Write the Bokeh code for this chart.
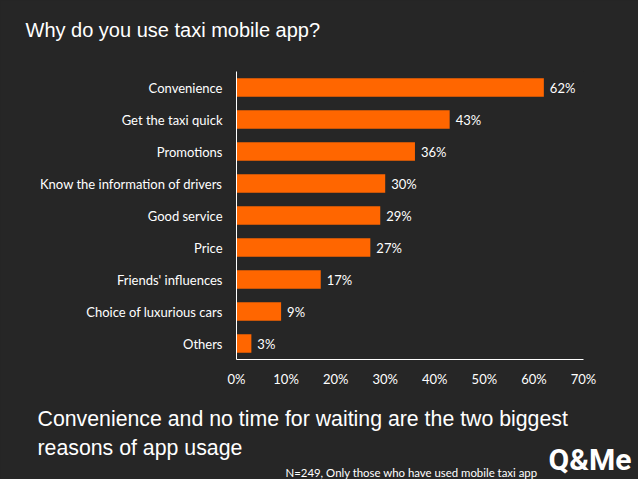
from bokeh.plotting import figure
from bokeh.models import FactorRange, Range1d, FixedTicker, Label, ColumnDataSource
from bokeh.core.properties import value
from bokeh.embed import file_html
from bokeh.resources import INLINE

# ---- data ----
categories = ["Convenience", "Get the taxi quick", "Promotions",
              "Know the information of drivers", "Good service", "Price",
              "Friends' influences", "Choice of luxurious cars", "Others"]
shares = [62, 43, 36, 30, 29, 27, 17, 9, 3]
share_labels = ["62%", "43%", "36%", "30%", "29%", "27%", "17%", "9%", "3%"]
x_ticks = [0, 10, 20, 30, 40, 50, 60, 70]
x_tick_labels = ["0%", "10%", "20%", "30%", "40%", "50%", "60%", "70%"]
title_text = "Why do you use taxi mobile app?"
subtitle_lines = ["Convenience and no time for waiting are the two biggest",
                  "reasons of app usage"]
footnote_text = "N=249, Only those who have used mobile taxi app"
logo_text = "Q&Me"

# ---- style ----
BG = "#262626"
ORANGE = "#FF6600"
WHITE = "#FFFFFF"
W, H = 638, 479
FRAME_LEFT, FRAME_RIGHT, FRAME_TOP, FRAME_BOTTOM = 236, 583, 71, 359

p = figure(width=W, height=H, output_backend="svg", toolbar_location=None,
           y_range=FactorRange(factors=list(reversed(categories))),
           x_range=Range1d(0, 70),
           min_border_left=FRAME_LEFT, min_border_right=W - FRAME_RIGHT,
           min_border_top=FRAME_TOP, min_border_bottom=H - FRAME_BOTTOM)
p.background_fill_color = BG
p.border_fill_color = BG
p.outline_line_color = None
p.xgrid.grid_line_color = None
p.ygrid.grid_line_color = None

src = ColumnDataSource(dict(cat=categories, val=shares, lab=share_labels))
p.hbar(y="cat", right="val", left=0, height=0.58, source=src,
       fill_color=ORANGE, line_color=None)
p.text(x="val", y="cat", text="lab", source=src, x_offset=6,
       text_baseline="middle", text_align="left",
       text_font=value("Lato"), text_font_size="13px", text_color=WHITE)

ya = p.yaxis[0]
ya.axis_line_color = WHITE
ya.axis_line_width = 1
ya.major_tick_line_color = None
ya.minor_tick_line_color = None
ya.major_tick_out = 0
ya.major_tick_in = 0
ya.major_label_standoff = 14
ya.major_label_text_font = "Lato"
ya.major_label_text_font_size = "13px"
ya.major_label_text_color = WHITE

xa = p.xaxis[0]
xa.ticker = FixedTicker(ticks=x_ticks)
xa.major_label_overrides = {t: l for t, l in zip(x_ticks, x_tick_labels)}
xa.axis_line_color = WHITE
xa.axis_line_width = 1
xa.major_tick_line_color = None
xa.minor_tick_line_color = None
xa.major_tick_out = 0
xa.major_tick_in = 0
xa.major_label_standoff = 11
xa.major_label_text_font = "Lato"
xa.major_label_text_font_size = "13px"
xa.major_label_text_color = WHITE


def side_text(side, x, y, text, font, size, align="left", style="normal"):
    # x, y are offsets (px) relative to the side panel box the label lands in
    p.add_layout(Label(x=x, y=y, x_units="screen", y_units="screen",
                       text=text, text_font=font, text_font_size=size,
                       text_font_style=style, text_color=WHITE,
                       text_align=align, text_baseline="alphabetic"), side)


# above stack (closest to frame first)
side_text("above", 25 - FRAME_LEFT, 42, title_text, "Liberation Sans", "20px")
side_text("above", 631 - FRAME_LEFT, -410, logo_text, "Roboto", "30px",
          align="right", style="bold")
# below stack (after the x axis)
side_text("below", 37 - FRAME_LEFT, -5, subtitle_lines[0], "Liberation Sans", "21.3px")
side_text("below", 37 - FRAME_LEFT, -10, subtitle_lines[1], "Liberation Sans", "21.3px")
side_text("below", 285 - FRAME_LEFT, -22, footnote_text, "Lato", "11.4px")

html = file_html(p, INLINE)
html = html.replace("<body>", '<body style="background-color:%s;">' % BG)
open("out.html", "w").write(html)
